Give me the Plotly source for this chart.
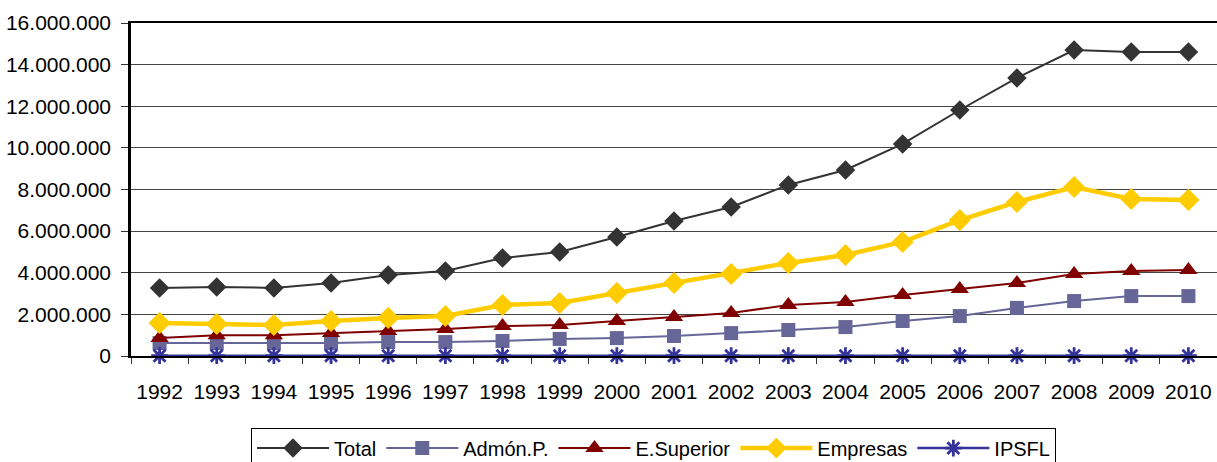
import plotly.graph_objects as go

years = [str(y) for y in range(1992, 2011)]
total = [3270000, 3320000, 3270000, 3510000, 3890000, 4080000, 4710000, 5000000, 5720000,
         6490000, 7160000, 8220000, 8940000, 10190000, 11820000, 13360000, 14700000, 14610000, 14610000]
admon = [620000, 620000, 620000, 620000, 670000, 670000, 720000, 820000, 860000,
         960000, 1100000, 1250000, 1390000, 1680000, 1920000, 2310000, 2640000, 2880000, 2880000]
esuperior = [860000, 1000000, 1000000, 1100000, 1200000, 1300000, 1440000, 1490000, 1680000,
             1870000, 2070000, 2450000, 2590000, 2930000, 3220000, 3510000, 3940000, 4080000, 4130000]
empresas = [1590000, 1540000, 1490000, 1680000, 1830000, 1920000, 2450000, 2550000, 3030000,
            3510000, 3940000, 4470000, 4850000, 5480000, 6530000, 7400000, 8120000, 7540000, 7500000]
ipsfl = [15000, 15000, 15000, 15000, 15000, 15000, 15000, 15000, 15000,
         15000, 15000, 15000, 15000, 15000, 15000, 15000, 15000, 15000, 15000]
y_ticks = [0, 2000000, 4000000, 6000000, 8000000, 10000000, 12000000, 14000000, 16000000]

fig = go.Figure()
fig.add_trace(go.Scatter(x=years, y=total, name="Total", mode="lines+markers", cliponaxis=False,
                         line=dict(color="#333333", width=2),
                         marker=dict(symbol="diamond", size=15, color="#333333")))
fig.add_trace(go.Scatter(x=years, y=admon, name="Admón.P.", mode="lines+markers", cliponaxis=False,
                         line=dict(color="#666699", width=2),
                         marker=dict(symbol="square", size=14, color="#666699")))
fig.add_trace(go.Scatter(x=years, y=esuperior, name="E.Superior", mode="lines+markers", cliponaxis=False,
                         line=dict(color="#800000", width=2),
                         marker=dict(symbol="triangle-up", size=16, color="#800000")))
fig.add_trace(go.Scatter(x=years, y=empresas, name="Empresas", mode="lines+markers", cliponaxis=False,
                         line=dict(color="#FFCC00", width=4.5),
                         marker=dict(symbol="diamond", size=17, color="#FFCC00")))
fig.add_trace(go.Scatter(x=years, y=ipsfl, name="IPSFL", mode="lines+markers", cliponaxis=False,
                         line=dict(color="#333399", width=2.5),
                         marker=dict(symbol="asterisk-open", size=14, color="#333399",
                                     line=dict(color="#333399", width=2.8))))

fig.update_layout(
    width=1217, height=462,
    margin=dict(l=131, r=0, t=23, b=106, autoexpand=False),
    paper_bgcolor="white", plot_bgcolor="white",
    separators=",.",
    font=dict(family="Liberation Sans, Arial, sans-serif", size=21, color="black"),
    showlegend=True,
    legend=dict(orientation="h", x=0.1105, y=-0.215, xanchor="left", yanchor="top",
                bordercolor="black", borderwidth=1, bgcolor="white",
                font=dict(family="Liberation Sans, Arial, sans-serif", size=20),
                itemwidth=72, tracegroupgap=0),
)
fig.update_xaxes(type="category", range=[-0.5, 18.5], tickson="boundaries",
                 ticks="outside", ticklen=6, tickcolor="#333333", tickwidth=1,
                 showline=True, linecolor="black", linewidth=2, mirror=True,
                 showgrid=False, tickfont=dict(size=21), automargin=False,
                 ticklabelstandoff=16)
fig.update_yaxes(range=[0, 16000000], tickvals=y_ticks, tickformat=",.0f",
                 ticks="outside", ticklen=7, tickcolor="#333333", tickwidth=1,
                 showline=True, linecolor="black", linewidth=2.5,
                 showgrid=True, gridcolor="#444444", gridwidth=1,
                 zeroline=False, tickfont=dict(size=21), automargin=False,
                 ticklabelstandoff=6)

fig.write_html("out.html", config={"displayModeBar": False},
               post_script="document.body.style.margin='0';document.body.style.padding='0';")
